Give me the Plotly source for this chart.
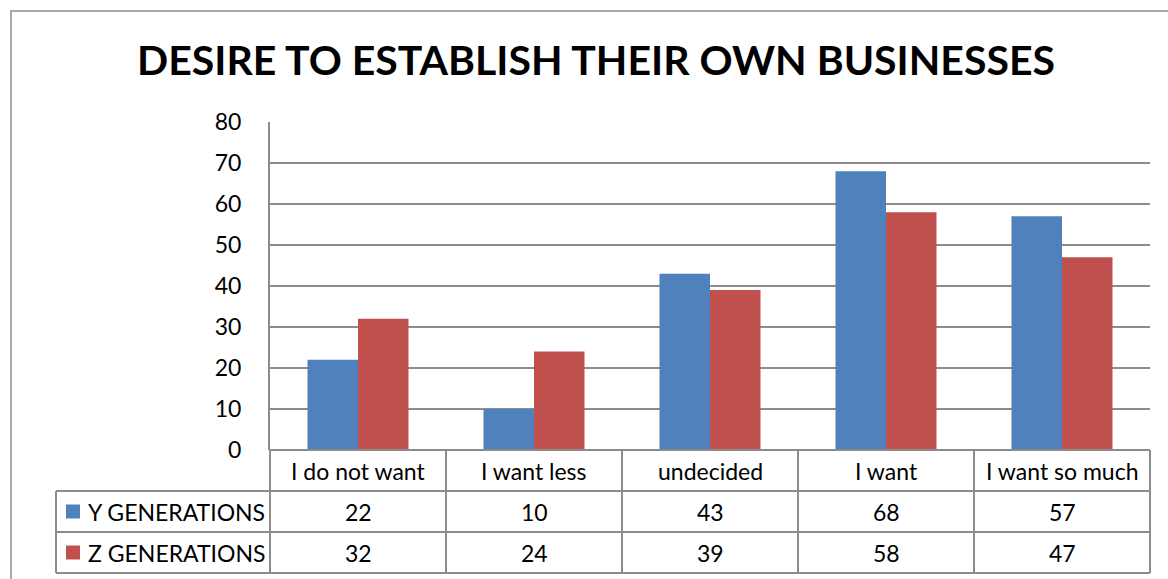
import plotly.graph_objects as go

# Survey results: desire to establish their own businesses
categories = ["I do not want", "I want less", "undecided", "I want", "I want so much"]
series_names = ["Y GENERATIONS", "Z GENERATIONS"]
y_generation = [22, 10, 43, 68, 57]
z_generation = [32, 24, 39, 58, 47]
y_ticks = [0, 10, 20, 30, 40, 50, 60, 70, 80]

colors = ["#4F81BD", "#C0504D"]
grid_color = "#8C8C8C"
font_family = "Lato, 'Open Sans', sans-serif"

W, H = 1168, 579
ML, MR, MT, MB = 270, 18, 122, 129
PW, PH = W - ML - MR, H - MT - MB


def px(x):
    return (x - ML) / PW


def py(y):
    return (H - MB - y) / PH


fig = go.Figure()
for name, vals, col in zip(series_names, [y_generation, z_generation], colors):
    fig.add_trace(go.Bar(
        x=list(range(len(categories))), y=vals, name=name,
        marker=dict(color=col, line=dict(width=0)), showlegend=False,
    ))

shapes = []
annotations = []

# outer chart frame
shapes.append(dict(type="rect", xref="paper", yref="paper",
                   x0=px(11), x1=px(1200), y0=py(11), y1=py(600),
                   line=dict(color=grid_color, width=1.5), fillcolor="rgba(0,0,0,0)", layer="below"))

# data table below the plot
n = len(categories)
row_top = [450, 491, 532]
row_h = 41
table_bottom = row_top[-1] + row_h
label_left = 56


def col_edge(i):
    return i / n  # paper x of category column edge (axis range -0.5..n-0.5)


# horizontal lines
shapes.append(dict(type="line", xref="paper", yref="paper", x0=0, x1=1, y0=py(row_top[0]), y1=py(row_top[0]),
                   line=dict(color=grid_color, width=2)))
for yy in row_top[1:] + [table_bottom]:
    shapes.append(dict(type="line", xref="paper", yref="paper", x0=px(label_left), x1=1, y0=py(yy), y1=py(yy),
                       line=dict(color=grid_color, width=2)))
# vertical lines
for i in range(n + 1):
    shapes.append(dict(type="line", xref="paper", yref="paper", x0=col_edge(i), x1=col_edge(i),
                       y0=py(row_top[0]), y1=py(table_bottom), line=dict(color=grid_color, width=2)))
shapes.append(dict(type="line", xref="paper", yref="paper", x0=px(label_left), x1=px(label_left),
                   y0=py(row_top[1]), y1=py(table_bottom), line=dict(color=grid_color, width=2)))

text_font = dict(family=font_family, size=23, color="#000000")

# header row: category names
for i, c in enumerate(categories):
    annotations.append(dict(xref="paper", yref="paper", x=(i + 0.5) / n, y=py(row_top[0] + row_h / 2),
                            text=c, showarrow=False, font=text_font, xanchor="center", yanchor="middle"))

# value rows with legend keys
for r, (name, vals, col) in enumerate(zip(series_names, [y_generation, z_generation], colors)):
    yc = row_top[r + 1] + row_h / 2
    shapes.append(dict(type="rect", xref="paper", yref="paper",
                       x0=px(66), x1=px(80), y0=py(yc - 7), y1=py(yc + 7),
                       fillcolor=col, line=dict(width=0)))
    annotations.append(dict(xref="paper", yref="paper", x=px(86), y=py(yc), text=name, showarrow=False,
                            font=text_font, xanchor="left", yanchor="middle"))
    for i, v in enumerate(vals):
        annotations.append(dict(xref="paper", yref="paper", x=(i + 0.5) / n, y=py(yc), text=str(v),
                                showarrow=False, font=text_font, xanchor="center", yanchor="middle"))

fig.update_layout(
    width=W, height=H,
    margin=dict(l=ML, r=MR, t=MT, b=MB),
    paper_bgcolor="white", plot_bgcolor="white",
    barmode="group", bargap=0.426, bargroupgap=0,
    title=dict(text="<b>DESIRE TO ESTABLISH THEIR OWN BUSINESSES</b>",
               x=596 / W, xanchor="center", y=(H - 61) / H, yanchor="middle",
               xref="container", yref="container",
               font=dict(family=font_family, size=41, color="#000000")),
    xaxis=dict(range=[-0.5, n - 0.5], showticklabels=False, showgrid=False, zeroline=False,
               showline=False, ticks=""),
    yaxis=dict(range=[0, 80], tickvals=y_ticks, showgrid=True, gridcolor=grid_color, gridwidth=1.5,
               zeroline=False, showline=True, linecolor=grid_color, linewidth=2, ticks="",
               ticklabelstandoff=22, tickfont=text_font),
    shapes=shapes, annotations=annotations,
)

fig.write_html("out.html")
